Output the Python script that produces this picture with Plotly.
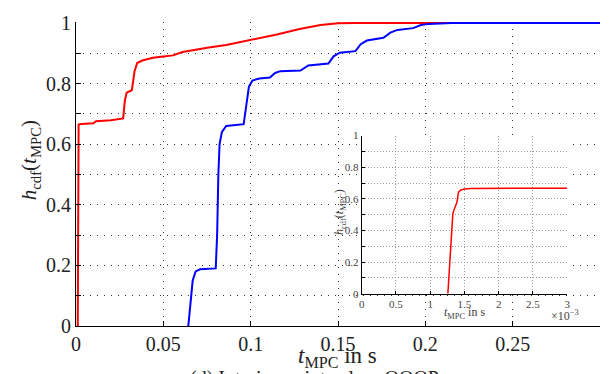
import plotly.graph_objects as go

# Empirical CDF of MPC computation time, two solver configurations
red_t = [0.0010, 0.0013, 0.0014, 0.0015, 0.0030, 0.0100, 0.0114, 0.0200, 0.0270,
         0.0280, 0.0290, 0.0320, 0.0335, 0.0350, 0.0380, 0.0440, 0.0500, 0.0555,
         0.0610, 0.0670, 0.0760, 0.0860, 0.1010, 0.1150, 0.1280, 0.1400, 0.1500,
         0.1600, 0.3000]
red_h = [0.000, 0.400, 0.600, 0.665, 0.667, 0.669, 0.676, 0.679, 0.685,
         0.745, 0.770, 0.778, 0.840, 0.868, 0.876, 0.885, 0.889, 0.893,
         0.904, 0.911, 0.919, 0.927, 0.944, 0.962, 0.980, 0.993, 0.999,
         1.000, 1.000]

blue_t = [0.0643, 0.0655, 0.0668, 0.0685, 0.0710, 0.0800, 0.0808, 0.0815, 0.0822,
          0.0835, 0.0860, 0.0960, 0.0975, 0.0990, 0.1010, 0.1050, 0.1110, 0.1140,
          0.1170, 0.1285, 0.1330, 0.1445, 0.1475, 0.1510, 0.1600, 0.1630, 0.1665,
          0.1760, 0.1800, 0.1840, 0.1930, 0.1975, 0.2020, 0.2150, 0.3000]
blue_h = [0.000, 0.080, 0.150, 0.180, 0.187, 0.190, 0.300, 0.500, 0.600,
          0.640, 0.660, 0.666, 0.730, 0.790, 0.810, 0.817, 0.820, 0.835,
          0.841, 0.843, 0.860, 0.866, 0.890, 0.902, 0.907, 0.930, 0.942,
          0.951, 0.968, 0.977, 0.983, 0.993, 0.997, 1.000, 1.000]

# Zoomed view of the fast configuration (millisecond range)
inset_t = [0.001258, 0.001300, 0.001331, 0.001360, 0.001389, 0.001413, 0.001450,
           0.001500, 0.001600, 0.003000]
inset_h = [0.000, 0.330, 0.508, 0.545, 0.575, 0.642, 0.656, 0.663, 0.666, 0.667]

main_xticks = [0, 0.05, 0.1, 0.15, 0.2, 0.25]
main_xtext = ["0", "0.05", "0.1", "0.15", "0.2", "0.25"]
main_yticks = [0, 0.1, 0.2, 0.3, 0.4, 0.5, 0.6, 0.7, 0.8, 0.9, 1.0]
main_ytext = ["0", "", "0.2", "", "0.4", "", "0.6", "", "0.8", "", "1"]
inset_xticks = [0, 0.0005, 0.001, 0.0015, 0.002, 0.0025, 0.003]
inset_xtext = ["0", "0.5", "1", "1.5", "2", "2.5", "3"]

FONT = "Liberation Serif"

fig = go.Figure()
fig.add_trace(go.Scatter(x=red_t, y=red_h, mode="lines",
                         line=dict(color="#ff0000", width=2), xaxis="x", yaxis="y"))
fig.add_trace(go.Scatter(x=blue_t, y=blue_h, mode="lines",
                         line=dict(color="#0000ff", width=2), xaxis="x", yaxis="y"))
fig.add_trace(go.Scatter(x=inset_t, y=inset_h, mode="lines",
                         line=dict(color="#ff0000", width=1.5), xaxis="x2", yaxis="y2"))

main_axis = dict(showline=True, linecolor="black", linewidth=1, ticks="inside",
                 ticklen=5, tickcolor="black", zeroline=False, showgrid=True,
                 gridcolor="#333333", gridwidth=1, griddash="1px,6px",
                 tickfont=dict(family=FONT, size=20, color="#222222"))
inset_axis = dict(showline=True, linecolor="black", linewidth=1, ticks="inside",
                  ticklen=3, tickcolor="black", zeroline=False, showgrid=True,
                  gridcolor="#9a9a9a", gridwidth=1, griddash="1px,2px",
                  tickfont=dict(family=FONT, size=11, color="#444444"))

fig.update_layout(
    width=615, height=374,
    margin=dict(l=76, r=12, t=13, b=48),
    paper_bgcolor="white", plot_bgcolor="white",
    showlegend=False,
    xaxis=dict(main_axis, range=[0, 0.3], tickvals=main_xticks, ticktext=main_xtext,
               domain=[0, 1], anchor="y"),
    yaxis=dict(main_axis, range=[0, 1.0032], tickvals=main_yticks, ticktext=main_ytext,
               domain=[0, 1], anchor="x"),
    xaxis2=dict(inset_axis, range=[0, 0.003], tickvals=inset_xticks, ticktext=inset_xtext,
                domain=[0.5452, 0.9374], anchor="y2"),
    yaxis2=dict(inset_axis, range=[0, 1], tickvals=main_yticks, ticktext=main_ytext,
                domain=[0.1064, 0.6262], anchor="x2"),
)

def px_x(p):
    return (p - 76) / 527

def px_y(p):
    return (326 - p) / 313

annotations = [
    dict(text="<i>h</i><sub>cdf</sub>(<i>t</i><sub>MPC</sub>)", x=px_x(30), y=px_y(155),
         textangle=-90, font=dict(family=FONT, size=21, color="#222222")),
    dict(text="<i>t</i><sub>MPC</sub> in s", x=px_x(339), y=px_y(358),
         font=dict(family=FONT, size=23, color="#222222")),
    dict(text="(d) Interior-point solver OOQP", x=px_x(316), y=px_y(366),
         yanchor="top", font=dict(family=FONT, size=20, color="#222222")),
    dict(text="<i>h</i><sub>cdf</sub>(<i>t</i><sub>MPC</sub>)", x=px_x(342), y=px_y(208),
         textangle=-90, font=dict(family=FONT, size=12, color="#444444")),
    dict(text="<i>t</i><sub>MPC</sub> in s", x=px_x(467), y=px_y(313),
         font=dict(family=FONT, size=12, color="#444444")),
    dict(text="×10<sup>−3</sup>", x=px_x(568), y=px_y(315),
         font=dict(family=FONT, size=12, color="#444444")),
]
for a in annotations:
    a.update(xref="paper", yref="paper", showarrow=False)
    a.setdefault("xanchor", "center")
    a.setdefault("yanchor", "middle")
fig.update_layout(annotations=annotations)

fig.write_html("out.html")
